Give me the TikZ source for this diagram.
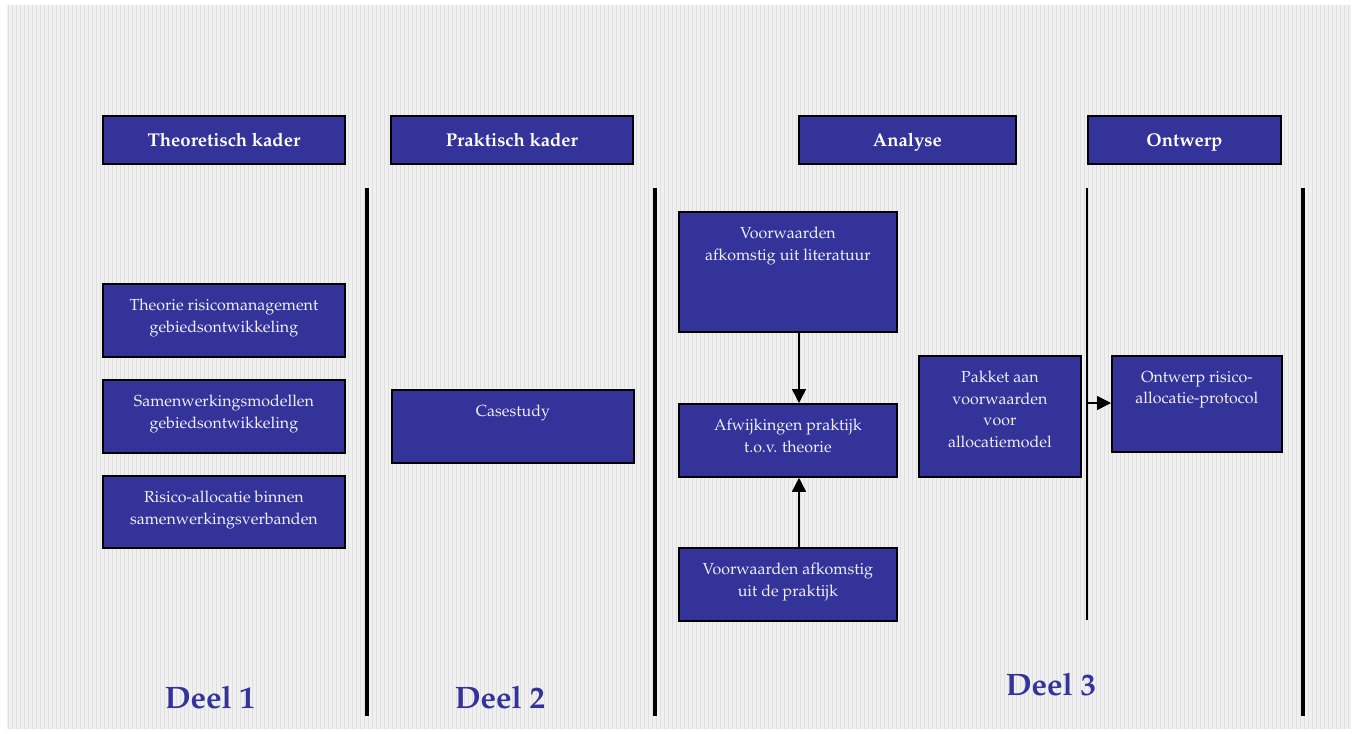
\documentclass[tikz,border=0pt]{standalone}
\usepackage[T1]{fontenc}
\usepackage{mathpazo}
\usetikzlibrary{arrows.meta}
\definecolor{boxblue}{HTML}{333399}
\definecolor{boxtext}{HTML}{EEEEFA}
\definecolor{bgbase}{HTML}{F0F0F0}
\definecolor{bggrid}{HTML}{E0E0E0}
\begin{document}
\begin{tikzpicture}[x=1pt,y=-1pt,
  box/.style={draw=black, line width=1.8pt, fill=boxblue, rectangle, inner sep=0pt, anchor=north west},
  head/.style={box, text=white, text height=14pt, text depth=1pt, font=\fontsize{18.5}{21}\selectfont\bfseries},
  txt/.style={text=boxtext, align=center, inner sep=0pt, anchor=north, font=\fontsize{16}{21.5}\selectfont},
  deel/.style={text=boxblue, inner sep=0pt, font=\fontsize{31}{36}\selectfont\bfseries},
  sep/.style={line width=3.2pt, black},
  thinsep/.style={line width=1.8pt, black},
  arr/.style={-{Triangle[length=14pt,width=14pt]}, line width=1.5pt, black}
]
\useasboundingbox (0,0) rectangle (1356,733);
\fill[white] (0,0) rectangle (1356,733);
\fill[bgbase] (7,5) rectangle (1351,729);
\draw[bggrid, line width=1pt, step=4] (7,5) grid (1351,729);

% headers
\node[head, minimum width=242pt, minimum height=48pt] (h1) at (102,115) {Theoretisch kader};
\node[head, minimum width=242pt, minimum height=48pt] (h2) at (390,115) {Praktisch kader};
\node[head, minimum width=217pt, minimum height=48pt] (h3) at (798,115) {Analyse};
\node[head, minimum width=193pt, minimum height=48pt] (h4) at (1087,115) {Ontwerp};

% separator lines
\coordinate (s1t) at (367,188); \coordinate (s1b) at (367,716);
\coordinate (s2t) at (655,188); \coordinate (s2b) at (655,716);
\coordinate (s3t) at (1087,188); \coordinate (s3b) at (1087,620);
\coordinate (s4t) at (1303,188); \coordinate (s4b) at (1303,716);
\draw[sep] (s1t) -- (s1b);
\draw[sep] (s2t) -- (s2b);
\draw[thinsep] (s3t) -- (s3b);
\draw[sep] (s4t) -- (s4b);

% left column
\node[box, minimum width=242pt, minimum height=73pt] (b1) at (102,283) {};
\node[txt] (t1) at ([yshift=-16pt]b1.north) {Theorie risicomanagement\\gebiedsontwikkeling};
\node[box, minimum width=242pt, minimum height=73pt] (b2) at (102,379) {};
\node[txt] (t2) at ([yshift=-16pt]b2.north) {Samenwerkingsmodellen\\gebiedsontwikkeling};
\node[box, minimum width=242pt, minimum height=72pt] (b3) at (102,475) {};
\node[txt] (t3) at ([yshift=-16pt]b3.north) {Risico-allocatie binnen\\samenwerkingsverbanden};

% casestudy
\node[box, minimum width=242pt, minimum height=73pt] (c1) at (391,389) {};
\node[txt] (tc1) at ([yshift=-16pt]c1.north) {Casestudy};

% analyse column
\node[box, minimum width=218pt, minimum height=120pt] (a1) at (678,211) {};
\node[txt] (ta1) at ([yshift=-16pt]a1.north) {Voorwaarden\\afkomstig uit literatuur};
\node[box, minimum width=218pt, minimum height=73pt] (a2) at (678,403) {};
\node[txt] (ta2) at ([yshift=-16pt]a2.north) {Afwijkingen praktijk\\t.o.v. theorie};
\node[box, minimum width=218pt, minimum height=73pt] (a3) at (678,547) {};
\node[txt] (ta3) at ([yshift=-16pt]a3.north) {Voorwaarden afkomstig\\uit de praktijk};

\node[box, minimum width=162pt, minimum height=121pt] (p1) at (918,355) {};
\node[txt] (tp1) at ([yshift=-16pt]p1.north) {Pakket aan\\voorwaarden\\voor\\allocatiemodel};

\node[box, minimum width=170pt, minimum height=96pt] (o1) at (1111,355) {};
\node[txt] (to1) at ([yshift=-16pt]o1.north) {Ontwerp risico-\\allocatie-protocol};

% arrows
\draw[arr] (a1.south -| 799,0) -- (a2.north -| 799,0);
\draw[arr] (a3.north -| 799,0) -- (a2.south -| 799,0);
\coordinate (ar) at (1087,403);
\draw[arr] (ar) -- (ar -| o1.west);

% deel labels
\node[deel] (d1) at (210,697) {Deel 1};
\node[deel] (d2) at (500,697) {Deel 2};
\node[deel] (d3) at (1051,684) {Deel 3};
\end{tikzpicture}
\end{document}
